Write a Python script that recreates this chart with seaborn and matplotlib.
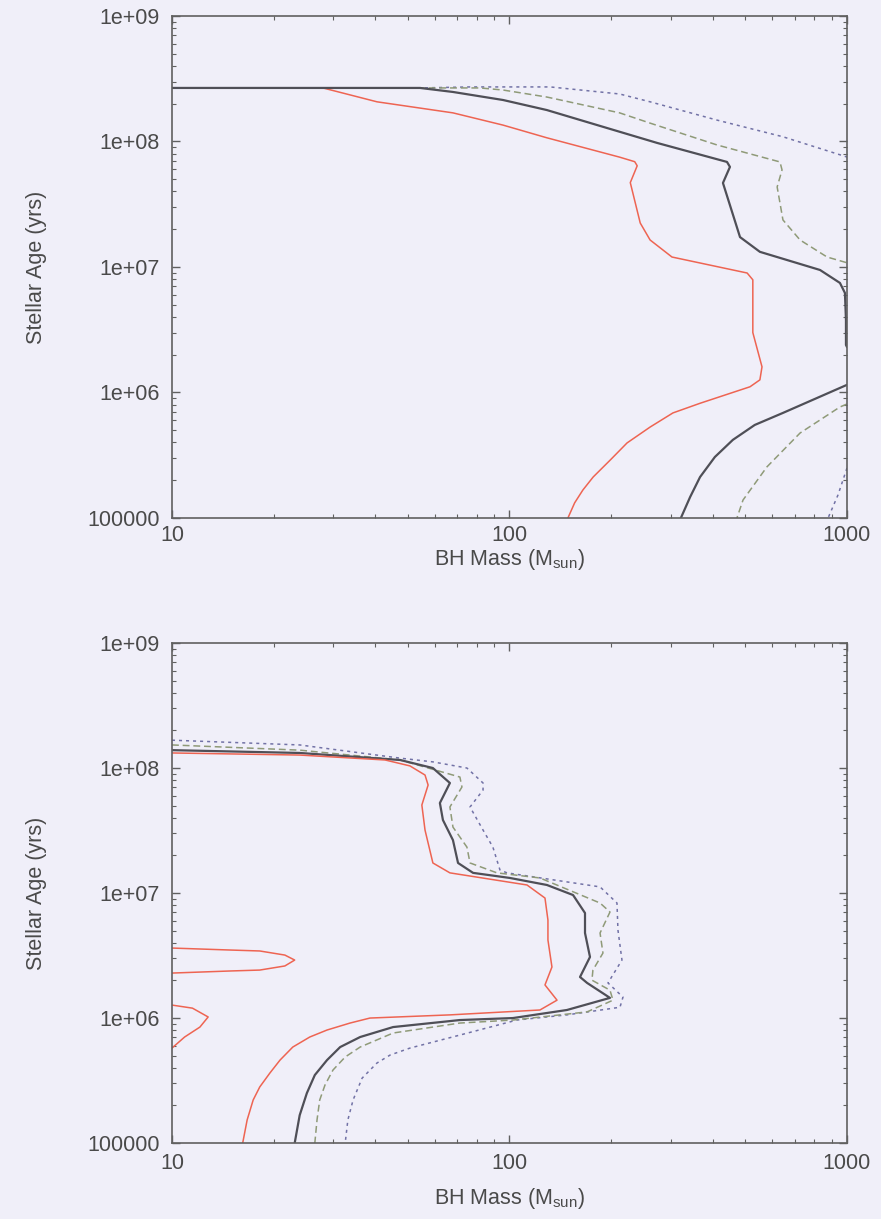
import matplotlib
matplotlib.use("Agg")
import matplotlib.pyplot as plt
import pandas as pd
import seaborn as sns
from matplotlib.ticker import FixedLocator, FixedFormatter, LogLocator, NullFormatter

# ---- axis ticks -------------------------------------------------------------
mass_ticks = [10, 100, 1000]
mass_tick_labels = ["10", "100", "1000"]
age_ticks = [1e5, 1e6, 1e7, 1e8, 1e9]
age_tick_labels = ["100000", "1e+06", "1e+07", "1e+08", "1e+09"]

# ---- upper panel contours ---------------------------------------------------
up_red_mass = [10, 28, 40.5, 68, 95.7, 129, 212, 235, 239, 228, 244, 261, 303,
               506, 526, 526, 560, 552, 516, 367, 305, 261, 223, 199, 177, 165,
               156, 149]
up_red_age = [2.67e8, 2.67e8, 2.07e8, 1.69e8, 1.35e8, 1.07e8, 7.5e7, 6.9e7,
              6.4e7, 4.7e7, 2.24e7, 1.64e7, 1.2e7, 8.95e6, 7.9e6, 3.0e6, 1.6e6,
              1.26e6, 1.11e6, 8.2e5, 6.87e5, 5.3e5, 3.96e5, 2.9e5, 2.12e5,
              1.67e5, 1.32e5, 1.0e5]

up_black_mass = [10, 54.3, 68, 95.7, 129, 189, 274, 441, 450, 429, 482, 552,
                 832, 953, 986, 993, 993, 1000]
up_black_age = [2.67e8, 2.67e8, 2.48e8, 2.14e8, 1.78e8, 1.31e8, 9.73e7,
                6.87e7, 6.27e7, 4.67e7, 1.73e7, 1.32e7, 9.46e6, 7.46e6,
                6.21e6, 3.78e6, 2.39e6, 2.3e6]

up_green_mass = [10, 81.8, 95.7, 129, 212, 261, 412, 633, 642, 621, 646, 726,
                 873, 1000]
up_green_age = [2.67e8, 2.67e8, 2.57e8, 2.26e8, 1.69e8, 1.40e8, 9.38e7,
                6.87e7, 5.93e7, 4.34e7, 2.37e7, 1.64e7, 1.2e7, 1.08e7]

up_blue_mass = [10, 54.3, 76.4, 132, 212, 261, 412, 646, 1000]
up_blue_age = [2.67e8, 2.67e8, 2.72e8, 2.72e8, 2.39e8, 2.07e8, 1.48e8,
               1.09e8, 7.52e7]

up_black_low_mass = [1000, 646, 533, 459, 406, 367, 343, 322]
up_black_low_age = [1.15e6, 6.87e5, 5.51e5, 4.19e5, 3.06e5, 2.12e5, 1.47e5,
                    1.0e5]

up_green_low_mass = [1000, 953, 726, 579, 492, 472]
up_green_low_age = [8.09e5, 7.66e5, 4.75e5, 2.55e5, 1.39e5, 1.0e5]

up_blue_low_mass = [1000, 940, 879]
up_blue_low_age = [2.5e5, 1.52e5, 1.0e5]

# ---- lower panel contours ---------------------------------------------------
lo_red_mass = [10, 23.9, 42.8, 50.7, 56.2, 57.4, 55.0, 56.2, 59.3, 66.6, 112.7,
               127.4, 130, 130, 133.6, 127.4, 138.3, 123.1, 66.6, 38.6, 33.7,
               28.8, 25.6, 22.8, 20.9, 19.5, 18.2, 17.4, 16.7, 16.2]
lo_red_age = [1.32e8, 1.27e8, 1.16e8, 1.04e8, 8.79e7, 7.31e7, 5.06e7, 3.19e7,
              1.74e7, 1.45e7, 1.16e7, 9.12e6, 6.08e6, 4.21e6, 2.56e6, 1.84e6,
              1.39e6, 1.16e6, 1.06e6, 1.0e6, 9.12e5, 8.02e5, 7.05e5, 5.86e5,
              4.61e5, 3.63e5, 2.81e5, 2.21e5, 1.53e5, 1.0e5]

lo_red_loop_mass = [10, 14.9, 18.2, 21.6, 23.1, 21.6, 18.2, 14.9, 10]
lo_red_loop_age = [3.63e6, 3.50e6, 3.44e6, 3.19e6, 2.91e6, 2.61e6, 2.42e6,
                   2.38e6, 2.29e6]

lo_red_small_mass = [10, 11.5, 12.8, 12.1, 10.9, 10]
lo_red_small_age = [1.27e6, 1.20e6, 1.02e6, 8.47e5, 7.05e5, 5.75e5]

lo_black_mass = [10, 23.9, 47.4, 59.3, 66.6, 62.2, 63.5, 68.0, 70.4, 78.0,
                 100.3, 129.1, 154.3, 167.4, 167.4, 173.2, 161.8, 169.8, 198.5,
                 148.0, 102.4, 71.3, 45.2, 36.1, 31.5, 28.8, 26.5, 25.1, 23.9,
                 23.1]
lo_black_age = [1.39e8, 1.32e8, 1.16e8, 1.0e8, 7.59e7, 5.25e7, 3.84e7, 2.65e7,
                1.74e7, 1.45e7, 1.32e7, 1.16e7, 9.64e6, 6.92e6, 4.79e6, 3.08e6,
                2.13e6, 1.91e6, 1.45e6, 1.16e6, 1.0e6, 9.64e5, 8.47e5, 7.05e5,
                5.86e5, 4.61e5, 3.50e5, 2.51e5, 1.67e5, 1.0e5]

lo_green_mass = [10, 23.9, 47.4, 71.3, 72.3, 66.6, 68.0, 74.8, 76.4, 91.8,
                 123.1, 185.5, 198.5, 185.5, 189.2, 176.7, 175.5, 198.5, 202.6,
                 169.8, 102.4, 71.3, 45.2, 36.1, 32.6, 30.0, 28.4, 27.4, 26.9,
                 26.5]
lo_green_age = [1.53e8, 1.39e8, 1.16e8, 8.47e7, 7.05e7, 4.88e7, 3.37e7,
                2.33e7, 1.74e7, 1.45e7, 1.32e7, 8.32e6, 7.05e6, 4.79e6, 3.31e6,
                2.42e6, 2.01e6, 1.67e6, 1.39e6, 1.12e6, 9.64e5, 9.12e5, 7.59e5,
                5.86e5, 4.88e5, 3.84e5, 2.91e5, 2.21e5, 1.53e5, 1.0e5]

lo_blue_mass = [10, 23.9, 47.4, 59.3, 74.8, 83.5, 83.5, 76.4, 83.5, 89.3, 93.7,
                98.3, 185.5, 208.2, 209.6, 215.4, 195.8, 216.9, 212.5, 148.0,
                105.2, 71.3, 50.7, 44.3, 40.5, 36.6, 34.4, 33.2, 32.6]
lo_blue_age = [1.67e8, 1.53e8, 1.20e8, 1.12e8, 1.0e8, 7.59e7, 6.67e7, 4.88e7,
               3.19e7, 2.33e7, 1.53e7, 1.45e7, 1.12e7, 8.32e6, 5.06e6, 2.91e6,
               1.91e6, 1.47e6, 1.22e6, 1.06e6, 9.64e5, 7.31e5, 5.75e5, 5.06e5,
               4.37e5, 3.31e5, 2.21e5, 1.53e5, 1.0e5]

# ---- styles -----------------------------------------------------------------
TEXT = "#4a4a4a"
SPINE = "#606060"
BG = "#f0eff9"
STYLES = {
    "red": dict(color="#ee6452", linewidth=1.1, linestyle="-"),
    "black": dict(color="#4f4f57", linewidth=1.6, linestyle="-"),
    "green": dict(color="#8f9a78", linewidth=1.1, linestyle=(0, (4.5, 2.5))),
    "blue": dict(color="#7272a6", linewidth=1.1, linestyle=(0, (2.0, 2.6))),
}

sns.set_theme(style="ticks")
plt.rcParams["font.family"] = ["Liberation Sans", "DejaVu Sans"]
plt.rcParams["mathtext.fontset"] = "custom"
plt.rcParams["mathtext.rm"] = "Liberation Sans"
plt.rcParams["mathtext.default"] = "regular"

fig = plt.figure(figsize=(8.81, 12.19), dpi=100, facecolor=BG)
ax_top = fig.add_axes([0.1952, 0.5751, 0.7662, 0.4118])
ax_bot = fig.add_axes([0.1952, 0.0623, 0.7662, 0.4102])


def draw(ax, mass, age, key):
    df = pd.DataFrame({"mass": mass, "age": age})
    sns.lineplot(data=df, x="mass", y="age", sort=False, estimator=None,
                 ax=ax, legend=False, **STYLES[key])


top_curves = [
    (up_red_mass, up_red_age, "red"),
    (up_blue_mass, up_blue_age, "blue"),
    (up_green_mass, up_green_age, "green"),
    (up_black_mass, up_black_age, "black"),
    (up_blue_low_mass, up_blue_low_age, "blue"),
    (up_green_low_mass, up_green_low_age, "green"),
    (up_black_low_mass, up_black_low_age, "black"),
]
bot_curves = [
    (lo_blue_mass, lo_blue_age, "blue"),
    (lo_green_mass, lo_green_age, "green"),
    (lo_black_mass, lo_black_age, "black"),
    (lo_red_mass, lo_red_age, "red"),
    (lo_red_loop_mass, lo_red_loop_age, "red"),
    (lo_red_small_mass, lo_red_small_age, "red"),
]

panels = ((ax_top, top_curves, 5, 1), (ax_bot, bot_curves, 7, 9))
for ax, curves, tpad, xpad in panels:
    ax.set_facecolor(BG)
    for m, a, k in curves:
        draw(ax, m, a, k)
    ax.set_xscale("log")
    ax.set_yscale("log")
    ax.set_xlim(mass_ticks[0], mass_ticks[-1])
    ax.set_ylim(age_ticks[0], age_ticks[-1])
    ax.xaxis.set_major_locator(FixedLocator(mass_ticks))
    ax.xaxis.set_major_formatter(FixedFormatter(mass_tick_labels))
    ax.yaxis.set_major_locator(FixedLocator(age_ticks))
    ax.yaxis.set_major_formatter(FixedFormatter(age_tick_labels))
    for axis in (ax.xaxis, ax.yaxis):
        axis.set_minor_locator(LogLocator(base=10, subs=range(2, 10)))
        axis.set_minor_formatter(NullFormatter())
    ax.tick_params(which="both", direction="in", top=True, right=True,
                   color=SPINE, labelcolor=TEXT, labelsize=15.5)
    ax.tick_params(axis="x", which="major", length=6, width=1.0, pad=tpad)
    ax.tick_params(axis="y", which="major", length=6, width=1.0, pad=9)
    ax.tick_params(which="minor", length=3, width=0.8)
    for sp in ax.spines.values():
        sp.set_color(SPINE)
        sp.set_linewidth(1.2)
    ax.set_xlabel(r"BH Mass (M$_{sun}$)", fontsize=15.5, color=TEXT,
                  labelpad=xpad)
    ax.set_ylabel("Stellar Age (yrs)", fontsize=15.5, color=TEXT,
                  labelpad=29)

fig.savefig("out.png", dpi=100, facecolor=BG)
